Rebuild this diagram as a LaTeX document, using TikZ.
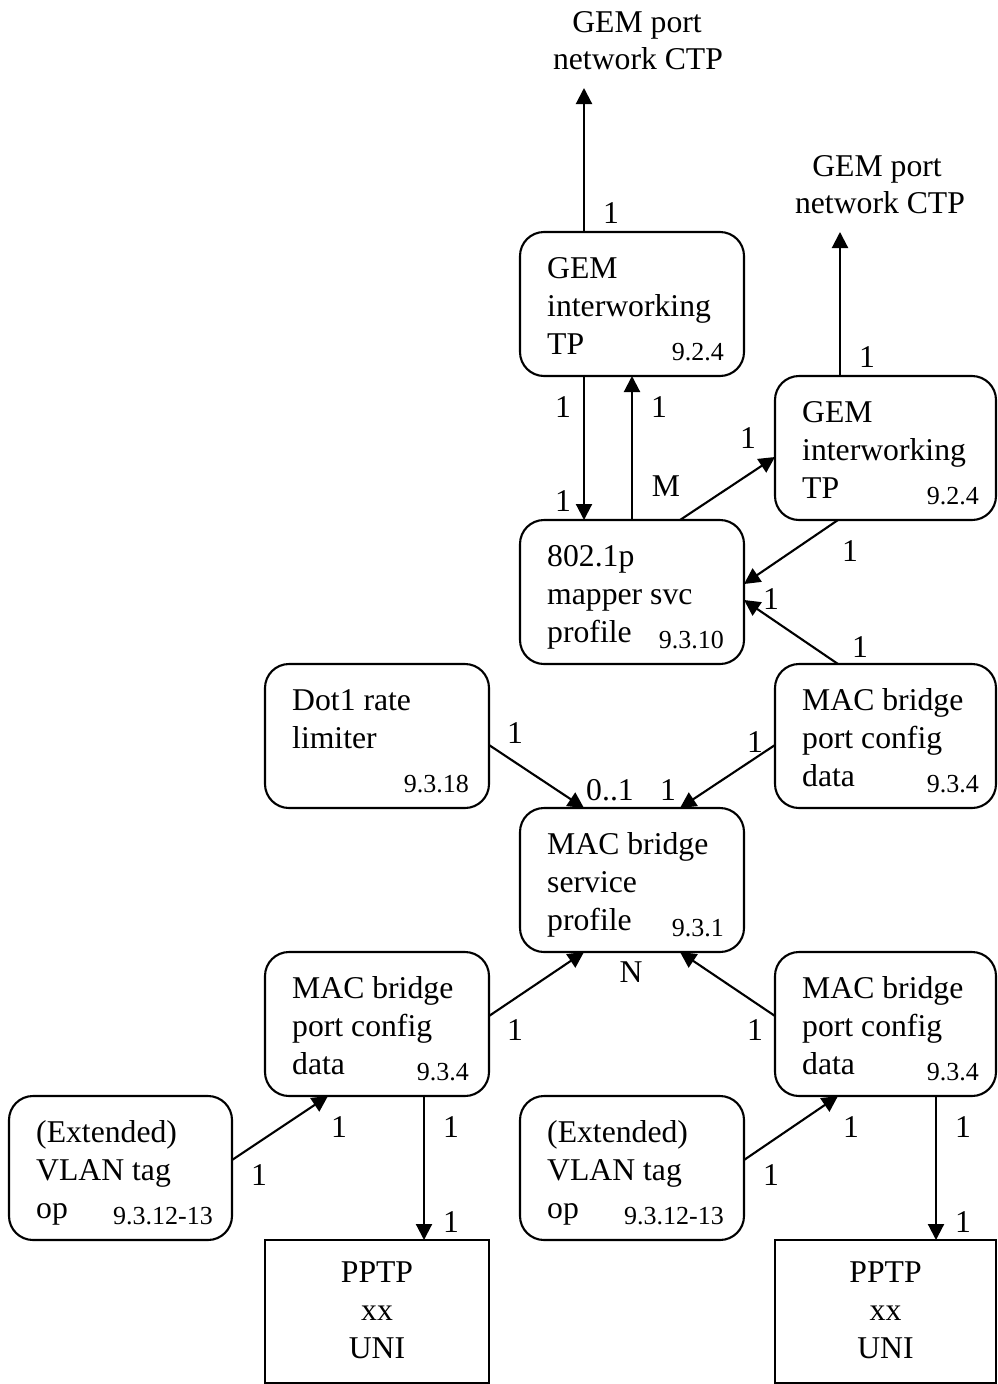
\documentclass[tikz,border=0pt]{standalone}
\usepackage{fontspec}
\setmainfont{Liberation Serif}
\usetikzlibrary{arrows.meta,calc}
\tikzset{
 obj/.style={draw, line width=2.1pt, rounded corners=24pt, minimum height=144pt, inner sep=0pt, outer sep=0pt},
 uni/.style={draw, line width=1.4pt, minimum height=143pt, inner sep=0pt, outer sep=0pt},
 mtext/.style={anchor=base west, inner sep=0pt, font=\fontsize{31.7}{38}\selectfont},
 ntext/.style={anchor=base east, inner sep=0pt, font=\fontsize{26}{30}\selectfont},
 ctext/.style={anchor=base, inner sep=0pt, font=\fontsize{31.7}{38}\selectfont},
 lab/.style={inner sep=0pt, font=\fontsize{31.7}{38}\selectfont},
 arr/.style={line width=2.1pt, -{Triangle[length=16pt,width=16pt]}},
}
% name, x0, y0, width, line1, line2, line3, number
\newcommand{\omciobj}[8]{%
 \node[obj, minimum width=#4pt] (#1) at (#2+#4/2, #3+72) {};
 \node[mtext] (#1-a) at (#2+27, #3+46.5) {#5};
 \node[mtext] (#1-b) at (#2+27, #3+84.5) {#6};
 \node[mtext] (#1-c) at (#2+27, #3+122.5) {#7};
 \node[ntext] (#1-n) at (#2+204, #3+128.5) {#8};
}
% name, x0, width
\newcommand{\omciuni}[3]{%
 \node[uni, minimum width=#3pt] (#1) at (#2+#3/2, 1240+71.5) {};
 \node[ctext] (#1-a) at (#2+#3/2, 1282) {PPTP};
 \node[ctext] (#1-b) at (#2+#3/2, 1320) {xx};
 \node[ctext] (#1-c) at (#2+#3/2, 1358) {UNI};
}
\begin{document}
\begin{tikzpicture}[x=1pt, y=-1pt]
\useasboundingbox (0,0) rectangle (997,1384);

\omciobj{gemA}{520}{232}{224}{GEM}{interworking}{TP}{9.2.4}
\omciobj{gemB}{775}{376}{221}{GEM}{interworking}{TP}{9.2.4}
\omciobj{map}{520}{520}{224}{802.1p}{mapper svc}{profile}{9.3.10}
\omciobj{dot}{265}{664}{224}{Dot1 rate}{limiter}{}{9.3.18}
\omciobj{pcA}{775}{664}{221}{MAC bridge}{port config}{data}{9.3.4}
\omciobj{sp}{520}{808}{224}{MAC bridge}{service}{profile}{9.3.1}
\omciobj{pcL}{265}{952}{224}{MAC bridge}{port config}{data}{9.3.4}
\omciobj{pcR}{775}{952}{221}{MAC bridge}{port config}{data}{9.3.4}
\omciobj{vlL}{9}{1096}{223}{(Extended)}{VLAN tag}{op}{9.3.12-13}
\omciobj{vlR}{520}{1096}{224}{(Extended)}{VLAN tag}{op}{9.3.12-13}
\omciuni{ppL}{265}{224}
\omciuni{ppR}{775}{221}

% GEM port network CTP labels
\node[ctext] (ctpA1) at (637,32) {GEM port};
\node[ctext] (ctpA2) at (638,69.5) {network CTP};
\node[ctext] (ctpB1) at (877,176) {GEM port};
\node[ctext] (ctpB2) at (880,213.5) {network CTP};
\coordinate (ctpA) at (584,88);
\coordinate (ctpB) at (840,232);

% connectors
\draw[arr] ([xshift=64pt]gemA.north west) -- (ctpA);
\draw[arr] ([xshift=65pt]gemB.north west) -- (ctpB);
\draw[arr] ([xshift=64pt]gemA.south west) -- ([xshift=64pt]map.north west);
\draw[arr] (map.north) -- (gemA.south);
\draw[arr] ([xshift=160pt]map.north west) -- ([yshift=-9pt]gemB.west);
\draw[arr] ([xshift=63pt]gemB.south west) -- ([yshift=8pt]map.east);
\draw[arr] ([xshift=63pt]pcA.north west) -- ([yshift=-8pt]map.east);
\draw[arr] ([yshift=-9pt]dot.east) -- ([xshift=64pt]sp.north west);
\draw[arr] ([yshift=-9pt]pcA.west) -- ([xshift=160pt]sp.north west);
\draw[arr] ([yshift=8pt]pcL.east) -- ([xshift=64pt]sp.south west);
\draw[arr] ([yshift=8pt]pcR.west) -- ([xshift=160pt]sp.south west);
\draw[arr] ([yshift=8pt]vlL.east) -- ([xshift=63pt]pcL.south west);
\draw[arr] ([xshift=159pt]pcL.south west) -- ([xshift=159pt]ppL.north west);
\draw[arr] ([yshift=8pt]vlR.east) -- ([xshift=63pt]pcR.south west);
\draw[arr] ([xshift=161pt]pcR.south west) -- ([xshift=161pt]ppR.north west);

% multiplicity labels
\node[lab] (l1) at (611,213) {1};
\node[lab] (l2) at (867,357) {1};
\node[lab] (l3) at (563,407) {1};
\node[lab] (l4) at (659,407) {1};
\node[lab] (l5) at (563,501) {1};
\node[lab] (l6) at (666,486) {M};
\node[lab] (l7) at (748,438) {1};
\node[lab] (l8) at (850,551) {1};
\node[lab] (l9) at (771,599) {1};
\node[lab] (l10) at (860,647) {1};
\node[lab] (l11) at (515,733) {1};
\node[lab] (l12) at (610,790) {0..1};
\node[lab] (l13) at (668,790) {1};
\node[lab] (l14) at (755,742) {1};
\node[lab] (l15) at (631,972) {N};
\node[lab] (l16) at (515,1030) {1};
\node[lab] (l17) at (755,1030) {1};
\node[lab] (l18) at (259,1175) {1};
\node[lab] (l19) at (339,1127) {1};
\node[lab] (l20) at (451,1127) {1};
\node[lab] (l21) at (451,1222) {1};
\node[lab] (l22) at (771,1175) {1};
\node[lab] (l23) at (851,1127) {1};
\node[lab] (l24) at (963,1127) {1};
\node[lab] (l25) at (963,1222) {1};
\end{tikzpicture}
\end{document}
